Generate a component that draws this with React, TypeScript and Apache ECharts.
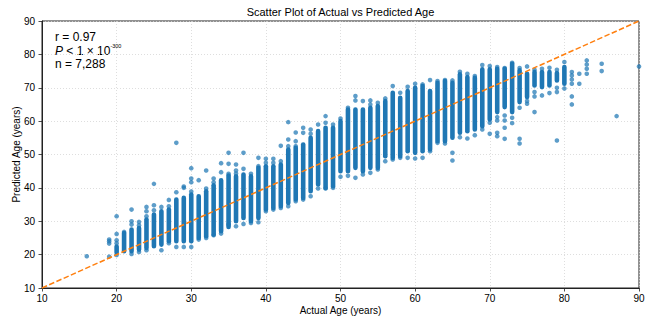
import React, { useEffect, useRef } from "react";
import * as echarts from "echarts";

// Dense core of each integer-age column (predicted age range)
const coreAges = [20, 21, 22, 23, 24, 25, 26, 27, 28, 29, 30, 31, 32, 33, 34, 35, 36, 37, 38, 39, 40, 41, 42, 43, 44, 45, 46, 47, 48, 49, 50, 51, 52, 53, 54, 55, 56, 57, 58, 59, 60, 61, 62, 63, 64, 65, 66, 67, 68, 69, 70, 71, 72, 73, 74, 75, 76, 77, 78, 79, 80];
const coreLow = [20.6, 21.0, 21.0, 21.5, 22.0, 22.5, 23.0, 24.0, 24.0, 24.0, 24.0, 25.0, 25.5, 26.0, 27.0, 28.3, 30.0, 31.0, 30.0, 31.0, 33.5, 34.0, 34.5, 35.5, 36.5, 37.0, 39.0, 41.0, 40.0, 40.5, 45.0, 45.0, 46.0, 45.0, 46.0, 46.0, 49.5, 49.0, 49.5, 51.0, 50.5, 51.0, 51.5, 54.0, 54.0, 55.0, 56.5, 57.0, 57.5, 58.5, 60.5, 62.7, 64.2, 62.7, 65.7, 67.2, 70.7, 70.2, 70.7, 72.2, 71.2];
const coreHigh = [22.4, 26.5, 27.5, 28.0, 30.5, 32.0, 33.0, 33.5, 36.5, 37.0, 38.0, 37.5, 39.0, 40.8, 42.3, 43.7, 43.5, 44.0, 43.5, 46.0, 46.5, 46.5, 47.0, 51.5, 52.0, 53.0, 55.0, 57.0, 58.0, 58.0, 60.0, 63.5, 63.5, 63.5, 64.0, 64.5, 66.0, 68.5, 67.0, 69.0, 70.0, 70.5, 69.0, 71.5, 72.0, 71.5, 74.0, 73.2, 73.0, 75.5, 75.5, 75.7, 75.7, 77.2, 75.2, 74.2, 74.7, 74.7, 74.7, 74.4, 76.2];

// Individual sparse points: [actual age, predicted age]
const sparsePoints: [number, number][] = [
  [16, 19.5],
  [19, 24.5], [19, 24.0], [19, 23.3], [19, 19.4],
  [20, 31.5], [20, 26.2], [20, 24.3], [20, 23.4], [20, 19.9],
  [21, 26.8],
  [22, 33.5], [22, 30.0], [22, 29.0], [22, 20.2],
  [23, 29.8], [23, 28.8], [23, 20.8],
  [24, 34.3], [24, 33.0], [24, 31.5], [24, 21.3],
  [25, 41.2], [25, 34.8], [25, 33.3],
  [26, 34.3], [26, 21.3],
  [27, 36.4], [27, 34.5], [27, 23.4],
  [28, 53.5], [28, 38.7], [28, 22.3],
  [29, 40.4], [29, 40.0], [29, 22.3],
  [30, 45.9], [30, 42.8], [30, 41.7], [30, 38.9], [30, 22.3],
  [31, 42.3], [31, 24.5],
  [32, 45.2], [32, 39.8], [32, 25.0],
  [33, 42.8], [33, 41.7], [33, 25.8],
  [34, 47.4], [34, 44.7], [34, 26.3],
  [35, 50.5], [35, 47.2], [35, 44.2], [35, 29.0],
  [36, 47.0], [36, 45.2], [36, 44.3], [36, 28.5],
  [37, 50.5], [37, 45.7], [37, 29.2],
  [38, 44.2], [38, 29.5],
  [39, 49.0], [39, 46.5], [39, 29.7],
  [40, 48.7], [40, 47.5], [40, 33.0],
  [41, 48.7], [41, 47.5], [41, 33.5],
  [42, 52.6], [42, 48.0], [42, 34.0],
  [43, 59.7], [43, 54.5], [43, 52.5], [43, 34.5],
  [44, 56.6], [44, 54.0], [44, 52.5], [44, 36.0],
  [45, 58.0], [45, 56.5], [45, 36.5],
  [46, 57.5], [46, 56.2], [46, 37.5],
  [47, 59.0], [47, 39.8],
  [48, 61.5], [48, 59.5], [48, 39.8],
  [49, 59.0], [49, 40.0],
  [50, 60.8], [50, 43.3],
  [51, 64.0], [51, 43.6],
  [52, 67.5], [52, 66.2], [52, 43.0],
  [53, 66.0], [53, 44.0],
  [54, 66.2], [54, 65.0], [54, 44.5],
  [55, 65.5], [55, 45.5],
  [56, 66.8], [56, 48.0],
  [57, 70.5], [57, 48.5],
  [58, 68.5], [58, 49.0],
  [59, 70.3], [59, 49.0],
  [60, 71.2], [60, 48.8],
  [61, 71.0], [61, 49.0],
  [62, 72.3], [62, 51.0],
  [63, 72.0], [63, 53.5],
  [64, 72.3], [64, 53.3],
  [65, 72.2], [65, 50.5], [65, 48.2],
  [66, 74.8], [66, 55.2],
  [67, 74.2], [67, 54.8],
  [68, 73.5], [68, 55.8],
  [69, 76.8], [69, 57.5],
  [70, 76.5], [70, 59.5], [70, 56.2],
  [71, 76.2], [71, 61.2], [71, 60.2], [71, 56.5], [71, 55.5],
  [72, 75.9], [72, 61.7], [72, 60.2], [72, 58.0], [72, 54.7],
  [73, 77.5], [73, 61.0], [73, 59.4],
  [74, 75.9], [74, 64.0], [74, 54.7], [74, 53.3],
  [75, 76.4], [75, 66.0], [75, 65.2],
  [76, 75.4], [76, 68.7], [76, 67.4], [76, 62.7],
  [77, 75.7], [77, 67.7],
  [78, 76.0], [78, 68.4],
  [79, 75.4], [79, 70.0], [79, 68.7], [79, 54.2],
  [80, 77.7], [80, 69.8],
  [81, 74.7], [81, 73.7], [81, 72.5], [81, 71.2], [81, 67.4], [81, 65.0],
  [82, 74.2], [82, 71.2],
  [83, 78.2], [83, 77.0], [83, 75.7], [83, 74.2],
  [85, 77.2], [85, 75.0],
  [87, 61.5],
  [90, 76.4],
];

const identityLine: [number, number][] = [[10, 10], [90, 90]];

const titleText = "Scatter Plot of Actual vs Predicted Age";
const xAxisTitle = "Actual Age (years)";
const yAxisTitle = "Predicted Age (years)";
const statR = "r = 0.97";
const statP = "{i|P} < 1 × 10{s|-300}";
const statN = "n = 7,288";

const FONT = "'Liberation Sans', Arial, Helvetica, sans-serif";

export default function App() {
  const ref = useRef<HTMLDivElement>(null);

  useEffect(() => {
    if (!ref.current) return;
    const chart = echarts.init(ref.current, undefined, { renderer: "svg" });
    const axisCommon = {
      type: "value" as const,
      min: 10,
      max: 90,
      interval: 10,
      nameLocation: "middle" as const,
      nameMoveOverlap: false,
      nameTextStyle: { fontFamily: FONT, fontSize: 10, color: "#000" },
      axisLine: { show: true, lineStyle: { color: "#222", width: 1 } },
      axisTick: { show: true, inside: false, length: 3.5, lineStyle: { color: "#222", width: 0.8 } },
      axisLabel: { fontFamily: FONT, fontSize: 10, color: "#000" },
      splitLine: { show: true, lineStyle: { color: "#d6d6d6", width: 0.8, type: [1, 2] } },
    };
    chart.setOption({
      animation: false,
      backgroundColor: "#fff",
      grid: {
        left: 42, right: 14, top: 21, bottom: 32,
        show: true, borderColor: "#222", borderWidth: 1,
        containLabel: false, outerBoundsMode: "none",
      },
      xAxis: { ...axisCommon, name: xAxisTitle, nameGap: 17, axisLabel: { ...axisCommon.axisLabel, margin: 5 } },
      yAxis: { ...axisCommon, name: yAxisTitle, nameGap: 21, axisLabel: { ...axisCommon.axisLabel, margin: 7 } },
      series: [
        {
          type: "custom",
          name: "cores",
          z: 2,
          clip: true,
          encode: { x: 0, y: [1, 2] },
          data: coreAges.map((a, i) => [a, coreLow[i], coreHigh[i]]),
          renderItem: (params: any, api: any) => {
            const age = api.value(0);
            const lo = api.value(1);
            const hi = api.value(2);
            const top = api.coord([age, hi]);
            const bot = api.coord([age, lo]);
            const w = 4.6;
            return {
              type: "rect",
              shape: { x: top[0] - w / 2, y: top[1] - w / 2, width: w, height: bot[1] - top[1] + w, r: w / 2 },
              style: { fill: "#1f77b4", opacity: 1 },
            };
          },
        },
        {
          type: "scatter",
          name: "points",
          z: 3,
          symbol: "circle",
          symbolSize: 4.6,
          data: sparsePoints,
          itemStyle: { color: "#1f77b4", opacity: 0.72 },
        },
        {
          type: "line",
          name: "identity",
          z: 4,
          data: identityLine,
          symbol: "none",
          lineStyle: { color: "#ff7f0e", width: 1.5, type: [5.5, 2.4] },
        },
      ],
      graphic: [
        {
          type: "text",
          x: 340.5,
          y: 12,
          style: { text: titleText, fontFamily: FONT, fontSize: 11, fill: "#000", align: "center", verticalAlign: "middle" },
        },
        {
          type: "text",
          x: 55,
          y: 37,
          style: { text: statR, fontFamily: FONT, fontSize: 12, fill: "#000", verticalAlign: "middle" },
        },
        {
          type: "text",
          x: 55,
          y: 50.5,
          style: {
            text: statP,
            fontFamily: FONT,
            fontSize: 12,
            fill: "#000",
            verticalAlign: "middle",
            rich: {
              i: { fontFamily: FONT, fontSize: 12, fontStyle: "italic", fill: "#000" },
              s: { fontFamily: FONT, fontSize: 5.5, fill: "#000", verticalAlign: "top", lineHeight: 15 },
            },
          },
        },
        {
          type: "text",
          x: 55,
          y: 64,
          style: { text: statN, fontFamily: FONT, fontSize: 12, fill: "#000", verticalAlign: "middle" },
        },
      ],
    });
    return () => chart.dispose();
  }, []);

  return (
    <div
      ref={ref}
      style={{ position: "fixed", left: 0, top: 0, width: 653, height: 320, background: "#fff" }}
    />
  );
}
